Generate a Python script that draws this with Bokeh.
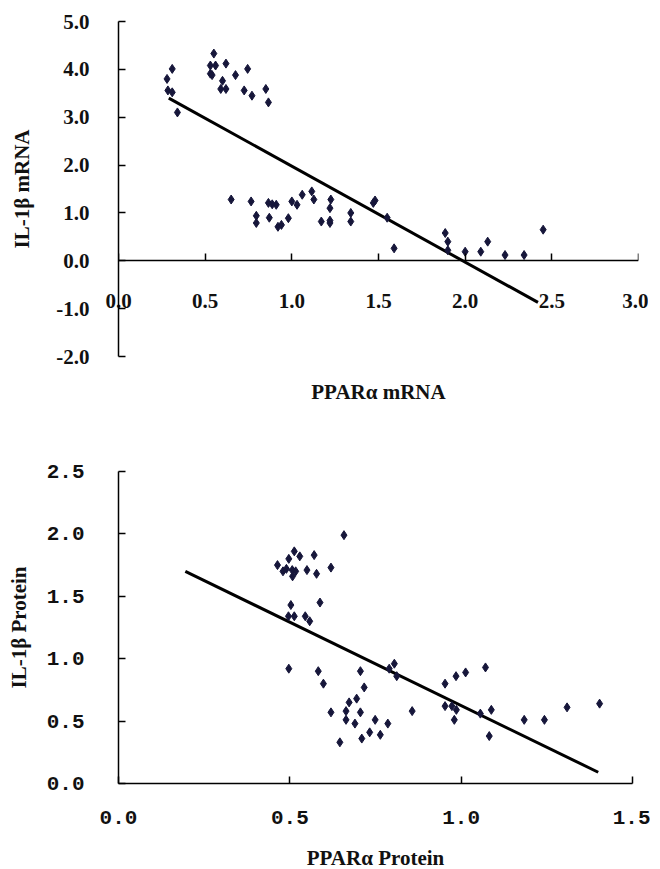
from bokeh.plotting import figure
from bokeh.layouts import column
from bokeh.models import Range1d, FixedTicker, NumeralTickFormatter, LinearAxis
from bokeh.embed import file_html
from bokeh.resources import INLINE

# ---------- data: top panel (mRNA) ----------
mrna_x = [0.28, 0.31, 0.285, 0.31, 0.34, 0.55, 0.53, 0.56, 0.62, 0.53, 0.54, 0.60, 0.59, 0.62,
          0.675, 0.745, 0.725, 0.77, 0.85, 0.865,
          0.65, 0.765, 0.795, 0.795, 0.865, 0.887, 0.91, 0.87, 0.92, 0.94, 0.98, 1.0, 1.03, 1.06,
          1.115, 1.127, 1.17, 1.225, 1.22, 1.22, 1.22, 1.34, 1.34, 1.47, 1.48, 1.55, 1.59,
          1.885, 1.90, 1.90, 2.0, 2.09, 2.13, 2.23, 2.34, 2.45]
mrna_y = [3.80, 4.01, 3.56, 3.52, 3.10, 4.33, 4.08, 4.08, 4.12, 3.91, 3.88, 3.76, 3.59, 3.59,
          3.88, 4.01, 3.56, 3.45, 3.59, 3.31,
          1.28, 1.24, 0.94, 0.79, 1.21, 1.18, 1.17, 0.90, 0.71, 0.75, 0.89, 1.24, 1.17, 1.38,
          1.45, 1.28, 0.82, 1.28, 1.10, 0.84, 0.79, 1.00, 0.82, 1.21, 1.26, 0.90, 0.26,
          0.58, 0.40, 0.22, 0.19, 0.19, 0.40, 0.12, 0.12, 0.65]
mrna_fit_x = [0.29, 2.42]
mrna_fit_y = [3.40, -0.87]
mrna_xticks = [0.0, 0.5, 1.0, 1.5, 2.0, 2.5, 3.0]
mrna_yticks = [-2.0, -1.0, 0.0, 1.0, 2.0, 3.0, 4.0, 5.0]

# ---------- data: bottom panel (protein) ----------
prot_x = [0.658, 0.513, 0.497, 0.529, 0.571, 0.464, 0.48, 0.49, 0.507, 0.517, 0.508, 0.55, 0.578,
          0.62, 0.503, 0.588, 0.496, 0.513, 0.545, 0.558, 0.497, 0.583, 0.598, 0.706, 0.717,
          0.695, 0.673, 0.62, 0.664, 0.706, 0.664, 0.69, 0.749, 0.786, 0.646, 0.71, 0.733,
          0.764, 0.79, 0.805, 0.812, 0.857, 0.953, 0.985, 1.013, 1.071, 0.953, 0.973, 0.986,
          0.98, 1.056, 1.088, 1.082, 1.184, 1.243, 1.309, 1.404]
prot_y = [1.99, 1.86, 1.80, 1.82, 1.83, 1.75, 1.70, 1.72, 1.71, 1.70, 1.66, 1.71, 1.68,
          1.73, 1.43, 1.45, 1.34, 1.34, 1.34, 1.30, 0.92, 0.90, 0.80, 0.90, 0.77,
          0.68, 0.65, 0.57, 0.58, 0.57, 0.51, 0.48, 0.51, 0.48, 0.33, 0.36, 0.41,
          0.39, 0.92, 0.96, 0.86, 0.58, 0.80, 0.86, 0.89, 0.93, 0.62, 0.62, 0.59,
          0.51, 0.56, 0.59, 0.38, 0.51, 0.51, 0.61, 0.64]
prot_fit_x = [0.195, 1.40]
prot_fit_y = [1.70, 0.09]
prot_xticks = [0.0, 0.5, 1.0, 1.5]
prot_yticks = [0.0, 0.5, 1.0, 1.5, 2.0, 2.5]

DOT = "#16163a"
SERIF = "Liberation Serif"
MONO = "Liberation Mono"
TXT = "#111111"


def style_axis(ax, tick_font, tick_size):
    ax.axis_line_color = "black"
    ax.axis_line_width = 1.5
    ax.major_tick_line_color = "black"
    ax.major_tick_line_width = 1.5
    ax.major_tick_in = 7
    ax.major_tick_out = 0
    ax.minor_tick_line_color = None
    ax.major_label_text_font = tick_font
    ax.major_label_text_font_size = tick_size
    ax.major_label_text_font_style = "bold"
    ax.major_label_text_color = TXT
    ax.axis_label_text_font = SERIF
    ax.axis_label_text_font_size = "21px"
    ax.axis_label_text_font_style = "bold"
    ax.axis_label_text_color = TXT
    ax.formatter = NumeralTickFormatter(format="0.0")


def style_fig(p):
    p.xgrid.grid_line_color = None
    p.ygrid.grid_line_color = None
    p.outline_line_color = None
    p.background_fill_color = "white"
    p.border_fill_color = "white"


# ---------- top figure ----------
p1 = figure(frame_width=520, frame_height=335, output_backend="svg", toolbar_location=None,
            x_axis_location=None,
            x_range=Range1d(0, 3.0), y_range=Range1d(-2.0, 5.0),
            min_border_left=118, min_border_top=21, min_border_bottom=54, min_border_right=10)
style_fig(p1)
style_axis(p1.yaxis[0], SERIF, "21px")
p1.yaxis.ticker = FixedTicker(ticks=mrna_yticks)
p1.yaxis.major_label_standoff = 29
p1.yaxis.axis_label = "IL-1β mRNA"
p1.yaxis.axis_label_standoff = 19

# x-axis line and ticks crossing at y = 0
x_zero = LinearAxis(ticker=FixedTicker(ticks=mrna_xticks), fixed_location=0)
style_axis(x_zero, SERIF, "21px")
x_zero.major_label_text_alpha = 0
x_zero.major_label_text_font_size = "1px"
p1.add_layout(x_zero, "below")

# tick labels and title of the x-axis (labels raised to sit just under y = 0)
x_lab = LinearAxis(ticker=FixedTicker(ticks=mrna_xticks), axis_label="PPARα mRNA")
style_axis(x_lab, SERIF, "21px")
x_lab.axis_line_color = None
x_lab.major_tick_line_color = None
x_lab.major_label_standoff = -63
x_lab.axis_label_standoff = 69
p1.add_layout(x_lab, "below")

p1.line(mrna_fit_x, mrna_fit_y, line_color="black", line_width=3)
p1.scatter(mrna_x, mrna_y, marker="diamond", size=9, fill_color=DOT, line_color=DOT)

# ---------- bottom figure ----------
p2 = figure(frame_width=514, frame_height=312, output_backend="svg", toolbar_location=None,
            x_range=Range1d(0, 1.5), y_range=Range1d(0, 2.5),
            min_border_left=118, min_border_top=61, min_border_bottom=86, min_border_right=18)
style_fig(p2)
style_axis(p2.xaxis[0], MONO, "21px")
style_axis(p2.yaxis[0], MONO, "21px")
p2.xaxis.ticker = FixedTicker(ticks=prot_xticks)
p2.yaxis.ticker = FixedTicker(ticks=prot_yticks)
p2.xaxis.major_label_standoff = 27
p2.yaxis.major_label_standoff = 34
p2.xaxis.axis_label = "PPARα Protein"
p2.xaxis.axis_label_standoff = 19
p2.yaxis.axis_label = "IL-1β Protein"
p2.yaxis.axis_label_standoff = 13
p2.line(prot_fit_x, prot_fit_y, line_color="black", line_width=3)
p2.scatter(prot_x, prot_y, marker="diamond", size=9, fill_color=DOT, line_color=DOT)

layout = column(p1, p2, spacing=0)
open("out.html", "w").write(file_html(layout, INLINE))
